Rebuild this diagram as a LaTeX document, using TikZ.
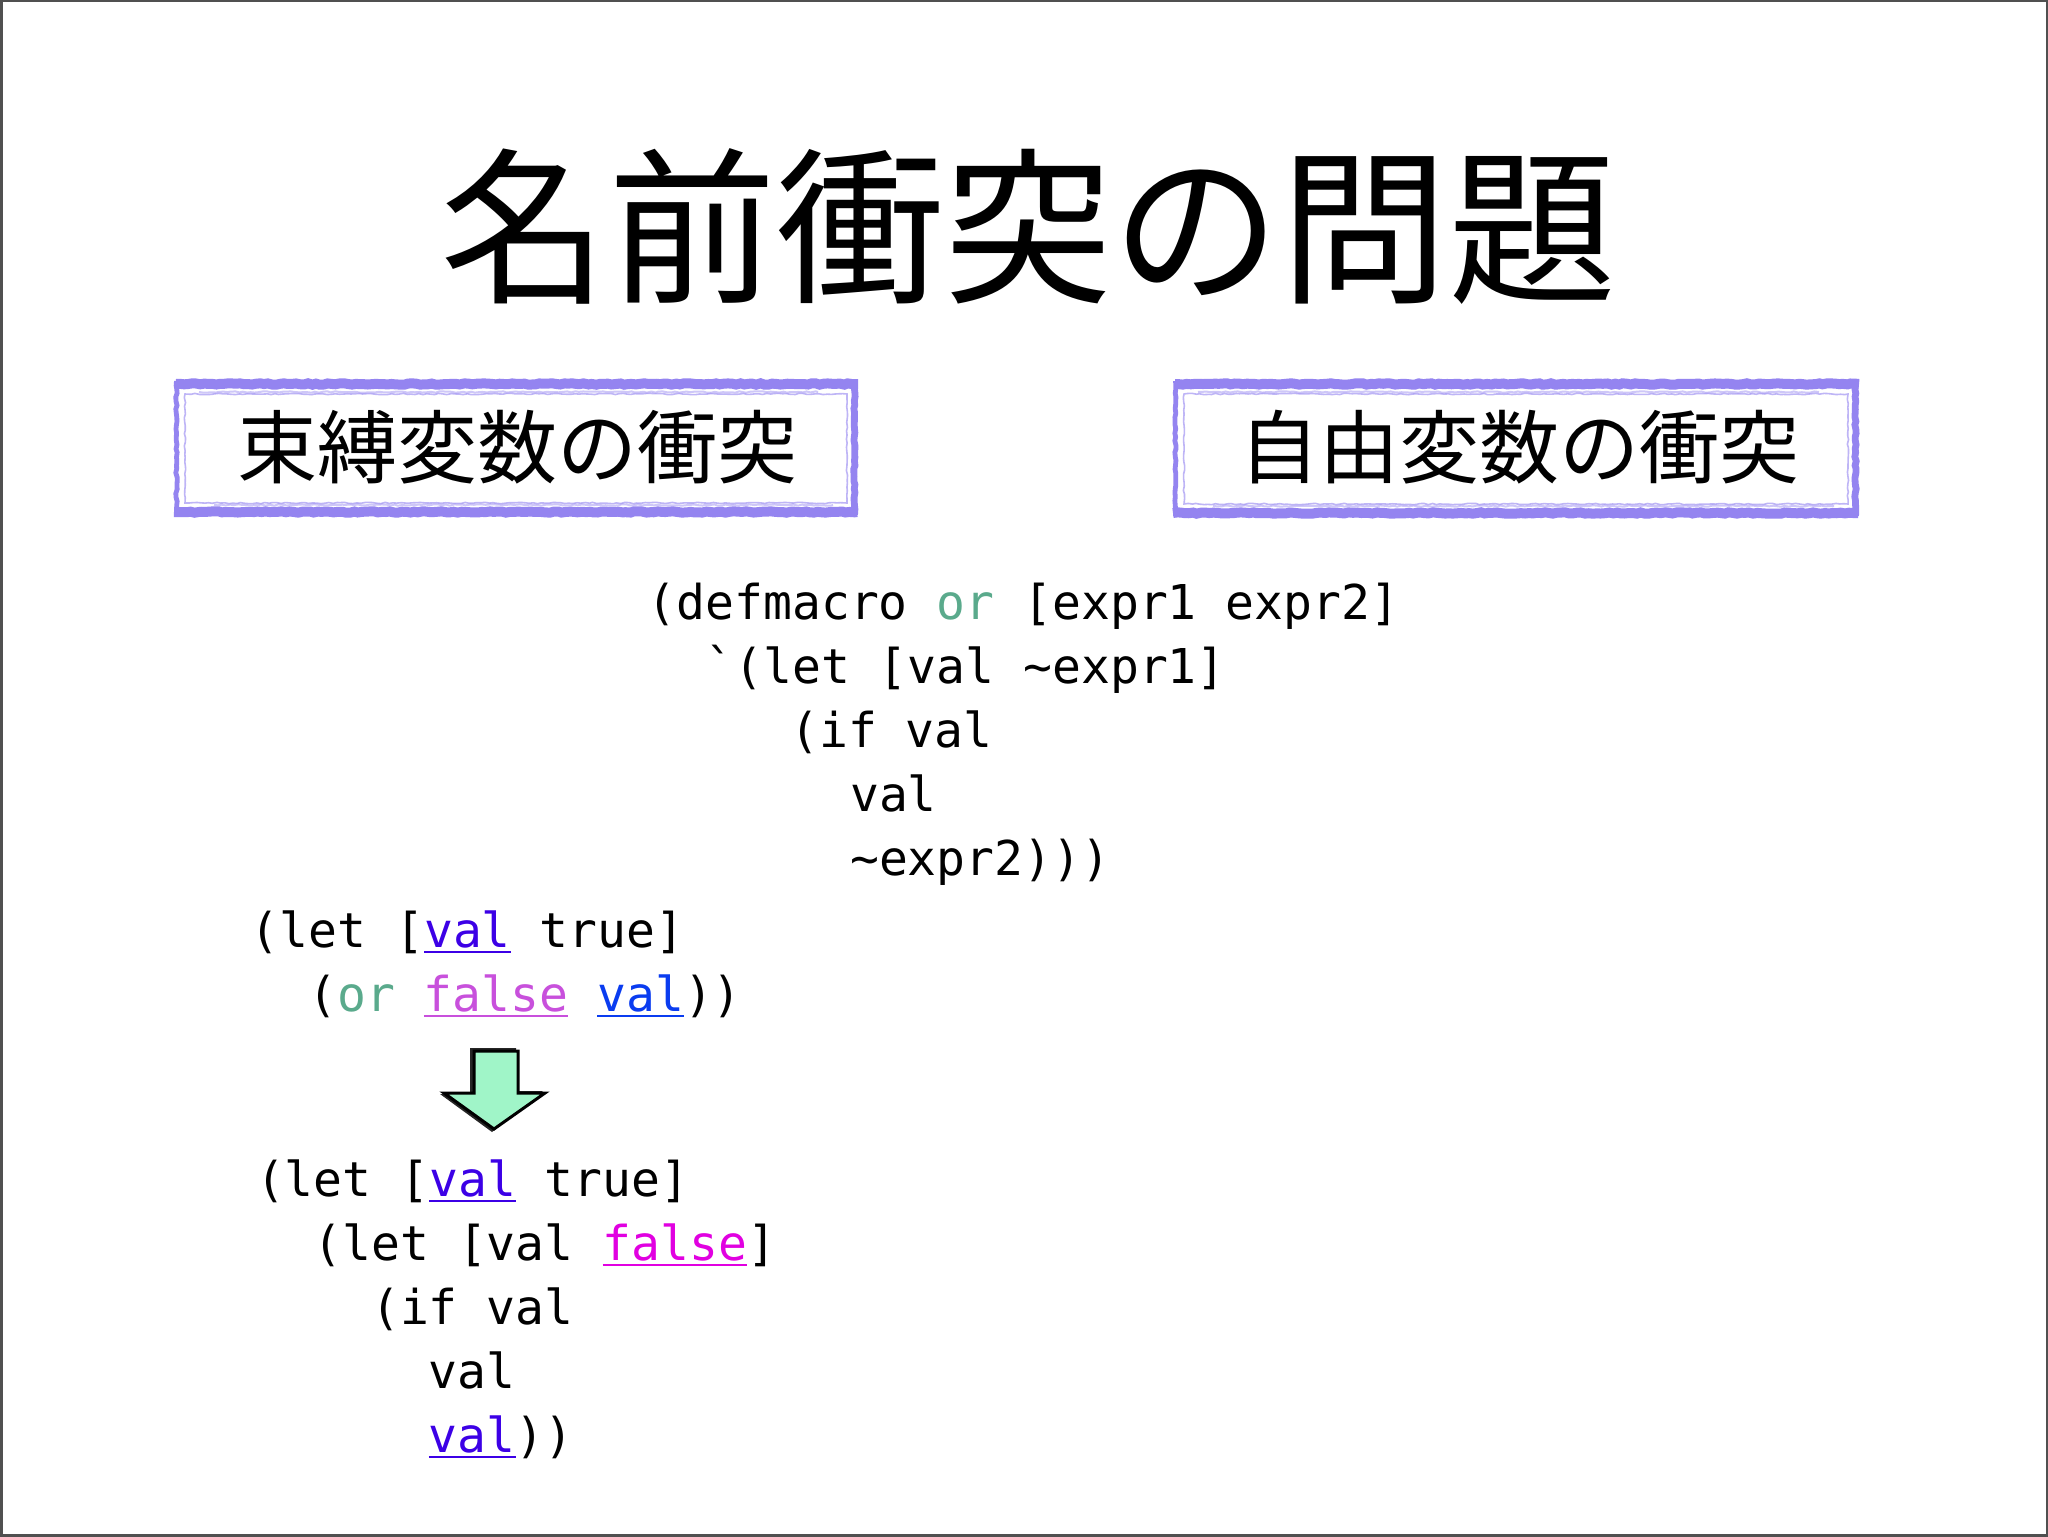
\documentclass[tikz,border=0pt]{standalone}
\usepackage{fontspec}
\setmonofont{DejaVu Sans Mono}
\newfontfamily\cjk{Noto Sans CJK JP}
\usetikzlibrary{decorations.pathmorphing}
\definecolor{framecol}{RGB}{148,132,240}
\definecolor{orc}{RGB}{90,170,140}
\definecolor{vioval}{RGB}{60,0,230}
\definecolor{blueval}{RGB}{10,60,240}
\definecolor{falseA}{RGB}{200,80,220}
\definecolor{falseB}{RGB}{225,0,225}
\definecolor{arrowfill}{RGB}{160,245,200}
\definecolor{pageborder}{RGB}{80,80,80}
\newcommand\ulword[2]{{\color{#1}\setbox0\hbox{#2}\rlap{\rule[-3.2pt]{\wd0}{1.4pt}}\box0}}
\newcommand\codefont{\ttfamily\fontsize{24}{28}\selectfont\frenchspacing}
\tikzset{
  band/.style={draw=framecol, line cap=butt, decorate,
    decoration={random steps, segment length=2pt, amplitude=0.35pt}},
  code/.style={anchor=base west, inner sep=0pt, font=\codefont},
  boxlabel/.style={inner sep=0pt, font=\cjk\fontsize{40}{48}\selectfont},
}
\newcommand\sketchframe[4]{%
  \draw[band, line width=5pt] (#1+2,#2+5) -- (#3,#2+5);
  \draw[band, line width=5pt] (#1,#4-5) -- (#3-1,#4-5);
  \draw[band, line width=2.4pt] (#1+2.5,#2+2) -- (#1+2.5,#4-2);
  \draw[band, line width=3.4pt] (#3-3.5,#2+2) -- (#3-3.5,#4-2);
  \draw[band, line width=0.8pt, opacity=0.6] (#1+11,#2+15) rectangle (#3-11,#4-14);
  \draw[band, line width=1pt, opacity=0.45] (#1+25,#2+13) -- (#3-40,#2+13);
  \draw[band, line width=1pt, opacity=0.45] (#1+40,#4-12) -- (#3-25,#4-12);
}
\begin{document}
\begin{tikzpicture}[x=0.5pt,y=-0.5pt]
\pgfmathsetseed{7}
\useasboundingbox (0,0) rectangle (2048,1536);
\fill[white] (0,0) rectangle (2048,1536);
\draw[pageborder, line width=1.5pt] (1,1) rectangle (2047,1535);

% title
\node[inner sep=0pt, font=\cjk\fontsize{84}{100}\selectfont] (title) at (1028,226) {名前衝突の問題};

% boxes
\sketchframe{174}{379}{858}{517}
\sketchframe{1173}{379}{1859}{518}
\node[boxlabel] (lbox) at (517,447) {束縛変数の衝突};
\node[boxlabel] (rbox) at (1519,447) {自由変数の衝突};

% macro definition
\node[code] (c1a) at (647.4,619) {(defmacro \textcolor{orc}{or} [expr1 expr2]};
\node[code] (c1b) at (705.2,683) {`(let [val \textasciitilde expr1]};
\node[code] (c1c) at (789.9,747) {(if val};
\node[code] (c1d) at (849.7,811) {val};
\node[code] (c1e) at (849.7,875) {\textasciitilde expr2)))};

% usage
\node[code] (c2a) at (250.4,947) {(let [\ulword{vioval}{val} true]};
\node[code] (c2b) at (308,1011) {(\textcolor{orc}{or} \ulword{falseA}{false} \ulword{blueval}{val}))};

% arrow
\fill[black!85] (470,1048) -- (516,1048) -- (516,1091) -- (543,1091) -- (492,1132) -- (440,1094) -- (470,1094) -- cycle;
\filldraw[fill=arrowfill, draw=black, line width=1.5pt, line join=miter]
  (474,1051) -- (518,1051) -- (518,1093) -- (545,1093) -- (494,1129) -- (444,1093) -- (474,1093) -- cycle;

% expansion
\node[code] (c3a) at (255.6,1196) {(let [\ulword{vioval}{val} true]};
\node[code] (c3b) at (313.2,1260) {(let [val \ulword{falseB}{false}]};
\node[code] (c3c) at (370.8,1324) {(if val};
\node[code] (c3d) at (428.4,1388) {val};
\node[code] (c3e) at (428.4,1452) {\ulword{vioval}{val}))};
\end{tikzpicture}
\end{document}
